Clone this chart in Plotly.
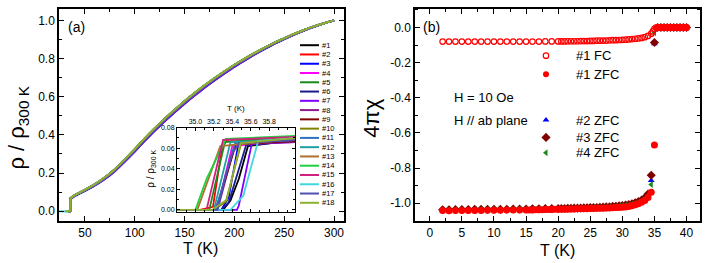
import plotly.graph_objects as go

W, H = 706, 263
FONT = "Arial, Liberation Sans, sans-serif"

# ---------------- Panel (a): normalized resistivity ----------------
base_T = [40, 50, 60, 70, 80, 90, 100, 110, 120, 130, 140, 150, 160, 170, 180,
          190, 200, 210, 220, 230, 240, 250, 260, 270, 280, 290, 300]
base_rho = [0.084, 0.111, 0.140, 0.175, 0.217, 0.268, 0.322, 0.378, 0.431, 0.481,
            0.528, 0.573, 0.616, 0.656, 0.694, 0.730, 0.764, 0.796, 0.826, 0.854,
            0.881, 0.905, 0.928, 0.949, 0.968, 0.985, 1.000]

sample_names = ["#1", "#2", "#3", "#4", "#5", "#6", "#7", "#8", "#9", "#10",
                "#11", "#12", "#13", "#14", "#15", "#16", "#17", "#18"]
sample_colors = ["#000000", "#ff0000", "#0000ff", "#ff00ff", "#1a8a1a", "#1a1a8c",
                 "#8000ff", "#8c1a8c", "#800000", "#808000", "#3070c0", "#20a0a0",
                 "#b07030", "#20d040", "#d02080", "#40d8e0", "#5050b0", "#90b030"]
# small deviation of each sample's normal-state curve (mid-range)
sample_dev = [0.000, 0.002, -0.010, 0.000, 0.004, -0.008, -0.010, -0.004, 0.000, 0.002,
              0.000, 0.002, 0.003, 0.004, 0.002, 0.000, -0.004, 0.003]
sample_Tlow = [33, 33, 33, 33, 33, 33, 33, 33, 33, 33,
               33, 33, 33, 33, 33, 24, 33, 30]

# inset: superconducting transition of each sample
inset_T = [
    [34.8, 35.30, 35.38, 35.47, 35.57, 36.1],
    [34.8, 35.05, 35.19, 35.29, 35.34, 36.1],
    [34.8, 35.28, 35.36, 35.47, 36.1],
    [34.8, 35.20, 35.26, 35.40, 36.1],
    [34.8, 35.15, 35.32, 36.1],
    [34.8, 35.28, 35.36, 35.55, 36.1],
    [34.8, 35.45, 35.47, 35.61, 36.1],
    [34.8, 35.24, 35.43, 36.1],
    [34.8, 35.22, 35.44, 36.1],
    [34.8, 35.20, 35.33, 35.50, 36.1],
    [34.8, 35.22, 35.43, 36.1],
    [34.8, 35.20, 35.38, 36.1],
    [34.8, 35.02, 35.10, 35.27, 36.1],
    [34.8, 35.00, 35.12, 35.33, 36.1],
    [34.8, 35.12, 35.30, 36.1],
    [34.8, 35.38, 35.52, 35.68, 36.1],
    [34.8, 35.24, 35.33, 35.40, 35.48, 36.1],
    [34.8, 35.18, 35.34, 35.49, 36.1],
]
inset_rho = [
    [0, 0, 0.009, 0.030, 0.062, 0.068],
    [0, 0, 0.003, 0.061, 0.068, 0.070],
    [0, 0, 0.012, 0.066, 0.069],
    [0, 0, 0.010, 0.062, 0.068],
    [0, 0, 0.066, 0.071],
    [0, 0, 0.007, 0.063, 0.067],
    [0, 0, 0.004, 0.064, 0.066],
    [0, 0, 0.064, 0.066],
    [0, 0, 0.064, 0.067],
    [0, 0, 0.008, 0.066, 0.071],
    [0, 0, 0.065, 0.068],
    [0, 0, 0.066, 0.069],
    [0, 0, 0.020, 0.062, 0.069],
    [0, 0, 0.030, 0.069, 0.072],
    [0, 0, 0.068, 0.071],
    [0, 0, 0.014, 0.067, 0.070],
    [0, 0, 0.035, 0.055, 0.065, 0.068],
    [0, 0, 0.010, 0.065, 0.070],
]

# ---------------- Panel (b): susceptibility ----------------
T_fc1 = [2, 3, 4, 5, 6, 7, 8, 9, 10, 11, 12, 13, 14, 15, 16, 17, 18, 19, 20,
         20.5, 21, 21.5, 22, 22.5, 23, 23.5, 24, 24.5, 25, 25.5, 26, 26.5, 27, 27.5,
         28, 28.5, 29, 29.5, 30, 30.5, 31, 31.5, 32, 32.5, 33, 33.5, 34, 34.5,
         34.75, 35, 35.25, 35.5, 35.75, 36, 36.25, 36.5, 36.75, 37, 37.25, 37.5,
         37.75, 38, 38.25, 38.5, 38.75, 39, 39.25, 39.5, 39.75, 40]
chi_fc1 = [-0.080, -0.080, -0.080, -0.080, -0.080, -0.080, -0.080, -0.080, -0.080, -0.080,
           -0.080, -0.080, -0.080, -0.080, -0.080, -0.080, -0.079, -0.079, -0.079,
           -0.079, -0.079, -0.078, -0.078, -0.078, -0.078, -0.077, -0.077, -0.077, -0.076,
           -0.076, -0.075, -0.075, -0.074, -0.074, -0.073, -0.072, -0.072, -0.071, -0.070,
           -0.069, -0.068, -0.066, -0.064, -0.062, -0.059, -0.055, -0.048, -0.035,
           -0.022, -0.008, 0.000, 0.000, 0.000, 0.000, 0.000, 0.000, 0.000, 0.000,
           0.000, 0.000, 0.000, 0.000, 0.000, 0.000, 0.000, 0.000, 0.000, 0.000, 0.000, 0.000]

T_zfc1 = [2, 3, 4, 5, 6, 7, 8, 9, 10, 11, 12, 13, 14, 15,
          15.5, 16, 16.5, 17, 17.5, 18, 18.5, 19, 19.5, 20,
          20.5, 21, 21.5, 22, 22.5, 23, 23.5, 24, 24.5, 25,
          25.5, 26, 26.5, 27, 27.5, 28, 28.5, 29, 29.5, 30,
          30.5, 31, 31.5, 32, 32.5, 33, 33.5, 34, 34.5, 35,
          35.5, 36, 36.5, 37, 37.5, 38, 38.5, 39, 39.5, 40]
chi_zfc1 = [-1.042, -1.043, -1.042, -1.042, -1.041, -1.041, -1.041, -1.040, -1.040, -1.040,
            -1.039, -1.039, -1.039, -1.038,
            -1.038, -1.038, -1.037, -1.037, -1.037, -1.036, -1.036, -1.036, -1.035, -1.035,
            -1.035, -1.034, -1.034, -1.033, -1.033, -1.032, -1.032, -1.031, -1.031, -1.030,
            -1.030, -1.029, -1.029, -1.028, -1.027, -1.027, -1.026, -1.025, -1.024, -1.023,
            -1.021, -1.018, -1.014, -1.009, -1.003, -0.995, -0.984, -0.967, -0.938, -0.668,
            0.000, 0.000, 0.000, 0.000, 0.000, 0.000, 0.000, 0.000, 0.000, 0.000]

T_zfc234 = [2, 3, 4, 5, 6, 7, 8, 9, 10, 11, 12, 13, 14, 15, 16, 17, 18, 19, 20,
            20.5, 21, 21.5, 22, 22.5, 23, 23.5, 24, 24.5, 25, 25.5, 26, 26.5, 27, 27.5,
            28, 28.5, 29, 29.5, 30, 30.5, 31, 31.5, 32, 32.5, 33, 33.5, 34, 34.5, 35,
            35.5, 36, 36.5, 37, 37.5, 38, 38.5, 39, 39.5, 40]
chi_zfc2 = [-1.036, -1.036, -1.035, -1.035, -1.035, -1.035, -1.034, -1.034, -1.034, -1.034,
            -1.033, -1.033, -1.033, -1.032, -1.032, -1.032, -1.031, -1.031, -1.030,
            -1.030, -1.030, -1.029, -1.029, -1.028, -1.028, -1.027, -1.027, -1.026, -1.025,
            -1.025, -1.024, -1.023, -1.022, -1.021, -1.020, -1.019, -1.017, -1.015, -1.013,
            -1.010, -1.007, -1.003, -0.998, -0.991, -0.982, -0.968, -0.945, -0.870, -0.092,
            0.000, 0.000, 0.000, 0.000, 0.000, 0.000, 0.000, 0.000, 0.000, 0.000]
chi_zfc3 = [-1.037, -1.037, -1.036, -1.036, -1.036, -1.035, -1.035, -1.035, -1.034, -1.034,
            -1.034, -1.033, -1.033, -1.033, -1.032, -1.032, -1.031, -1.031, -1.031,
            -1.030, -1.030, -1.029, -1.029, -1.028, -1.028, -1.027, -1.026, -1.026, -1.025,
            -1.024, -1.024, -1.023, -1.022, -1.021, -1.020, -1.018, -1.017, -1.015, -1.013,
            -1.010, -1.007, -1.003, -0.998, -0.991, -0.982, -0.969, -0.948, -0.841, -0.085,
            0.000, 0.000, 0.000, 0.000, 0.000, 0.000, 0.000, 0.000, 0.000, 0.000]
chi_zfc4 = [-1.038, -1.038, -1.037, -1.037, -1.037, -1.036, -1.036, -1.036, -1.035, -1.035,
            -1.035, -1.034, -1.034, -1.034, -1.033, -1.033, -1.033, -1.032, -1.032,
            -1.032, -1.031, -1.031, -1.030, -1.030, -1.029, -1.029, -1.028, -1.028, -1.027,
            -1.026, -1.026, -1.025, -1.024, -1.023, -1.022, -1.021, -1.019, -1.017, -1.015,
            -1.013, -1.010, -1.006, -1.001, -0.995, -0.986, -0.973, -0.955, -0.893, -0.030,
            0.000, 0.000, 0.000, 0.000, 0.000, 0.000, 0.000, 0.000, 0.000, 0.000]

chi_legend_labels = ["#1 FC", "#1 ZFC", "#2 ZFC", "#3 ZFC", "#4 ZFC"]

# ---------------- layout geometry (pixels) ----------------
A_X0, A_X1 = 59, 344
B_X0, B_X1 = 415, 700
P_Y0, P_Y1 = 5, 221
IN_X0, IN_X1, IN_Y0, IN_Y1 = 177, 295, 126, 212
A_XR, A_YR = [24, 310], [-0.05, 1.06]
B_XR, B_YR = [-2.3, 42.1], [-1.1, 0.106]
IN_XR, IN_YR = [34.8, 36.08], [-0.002, 0.08]


def px(x):
    return x / W


def py(y):
    return 1 - y / H


def b_data(xp, yp):
    tx = B_XR[0] + (xp - B_X0) * (B_XR[1] - B_XR[0]) / (B_X1 - B_X0)
    ty = B_YR[1] - (yp - P_Y0) * (B_YR[1] - B_YR[0]) / (P_Y1 - P_Y0)
    return tx, ty


fig = go.Figure()

# main curves (a)
for i, name in enumerate(sample_names):
    xs = [sample_Tlow[i]] + inset_T[i][1:] + base_T
    ys = [0.0] + inset_rho[i][1:] + [b + sample_dev[i] * 4 * b * (1 - b) for b in base_rho]
    fig.add_trace(go.Scatter(x=xs, y=ys, mode="lines", line=dict(color=sample_colors[i], width=2, shape="spline", smoothing=0.3),
                             xaxis="x", yaxis="y", showlegend=False, hoverinfo="skip"))

# inset curves
for i, name in enumerate(sample_names):
    fig.add_trace(go.Scatter(x=inset_T[i], y=inset_rho[i], mode="lines",
                             line=dict(color=sample_colors[i], width=1.8),
                             xaxis="x3", yaxis="y3", showlegend=False, hoverinfo="skip"))

# panel (b) data
fig.add_trace(go.Scatter(x=T_zfc234, y=chi_zfc2, mode="markers", xaxis="x2", yaxis="y2",
                         marker=dict(symbol="triangle-up", size=6, color="#0000ff"), showlegend=False))
fig.add_trace(go.Scatter(x=T_zfc234, y=chi_zfc3, mode="markers", xaxis="x2", yaxis="y2",
                         marker=dict(symbol="diamond", size=7, color="#800000"), showlegend=False))
fig.add_trace(go.Scatter(x=T_zfc234, y=chi_zfc4, mode="markers", xaxis="x2", yaxis="y2",
                         marker=dict(symbol="triangle-left", size=6, color="#1a8a1a"), showlegend=False))
fig.add_trace(go.Scatter(x=T_zfc1, y=chi_zfc1, mode="markers", xaxis="x2", yaxis="y2",
                         marker=dict(symbol="circle", size=7, color="#ff0000"), showlegend=False))
fig.add_trace(go.Scatter(x=T_fc1, y=chi_fc1, mode="markers", xaxis="x2", yaxis="y2",
                         marker=dict(symbol="circle-open", size=5.5, color="#ff0000", line=dict(width=1.2)),
                         showlegend=False))

# legend keys for (b)
leg_rows_b = [52.7, 71.7, 118.3, 136.0, 151.7]
leg_syms = [("circle-open", 5.5, "#ff0000"), ("circle", 6, "#ff0000"), ("triangle-up", 6, "#0000ff"),
            ("diamond", 7, "#800000"), ("triangle-left", 6, "#1a8a1a")]
for (sym, sz, col), yrow, lab in zip(leg_syms, leg_rows_b, chi_legend_labels):
    lx, ly = b_data(546, yrow)
    mk = dict(symbol=sym, size=sz, color=col)
    if "open" in sym:
        mk["line"] = dict(width=1.2)
    fig.add_trace(go.Scatter(x=[lx], y=[ly], mode="markers", xaxis="x2", yaxis="y2",
                             marker=mk, showlegend=False))

axis_common = dict(showline=True, linecolor="black", linewidth=1.5, mirror="allticks",
                   ticks="inside", ticklen=5, tickwidth=1.2, tickcolor="black",
                   showgrid=False, zeroline=False,
                   tickfont=dict(family=FONT, size=12, color="black"))

fig.update_layout(
    width=W, height=H, autosize=False,
    margin=dict(l=0, r=0, t=0, b=0),
    paper_bgcolor="white", plot_bgcolor="white",
    font=dict(family=FONT, color="black"),
    xaxis=dict(domain=[px(A_X0), px(A_X1)], range=A_XR, anchor="y", tick0=0, dtick=50,
               minor=dict(ticks="inside", ticklen=3, dtick=25, tickcolor="black"), **axis_common),
    yaxis=dict(domain=[py(P_Y1), py(P_Y0)], range=A_YR, anchor="x", tick0=0, dtick=0.2, tickformat=".1f",
               minor=dict(ticks="inside", ticklen=3, dtick=0.1, tickcolor="black"), **axis_common),
    xaxis2=dict(domain=[px(B_X0), px(B_X1)], range=B_XR, anchor="y2", tick0=0, dtick=5,
                minor=dict(ticks="inside", ticklen=3, dtick=2.5, tickcolor="black"), **axis_common),
    yaxis2=dict(domain=[py(P_Y1), py(P_Y0)], range=B_YR, anchor="x2",
                tickvals=[-1.0, -0.8, -0.6, -0.4, -0.2, 0.0],
                ticktext=["-1.0", "-0.8", "-0.6", "-0.4", "-0.2", "0.0"],
                minor=dict(ticks="inside", ticklen=3, tickvals=[-1.1, -0.9, -0.7, -0.5, -0.3, -0.1, 0.1],
                           tickcolor="black"), **axis_common),
    xaxis3=dict(domain=[px(IN_X0), px(IN_X1)], range=IN_XR, anchor="y3", side="top",
                tickvals=[35.0, 35.2, 35.4, 35.6, 35.8], ticktext=["35.0", "35.2", "35.4", "35.6", "35.8"],
                showline=True, linecolor="black", linewidth=1, mirror="allticks", ticks="inside",
                ticklen=3, tickwidth=1, tickcolor="black", showgrid=False, zeroline=False,
                minor=dict(ticks="inside", ticklen=2, tickvals=[34.9, 35.1, 35.3, 35.5, 35.7, 35.9, 36.0],
                           tickcolor="black"),
                tickfont=dict(family=FONT, size=7, color="black")),
    yaxis3=dict(domain=[py(IN_Y1), py(IN_Y0)], range=IN_YR, anchor="x3",
                tickvals=[0.0, 0.02, 0.04, 0.06, 0.08], ticktext=["0.00", "0.02", "0.04", "0.06", "0.08"],
                showline=True, linecolor="black", linewidth=1, mirror="allticks", ticks="inside",
                ticklen=3, tickwidth=1, tickcolor="black", showgrid=False, zeroline=False,
                minor=dict(ticks="inside", ticklen=2, tickvals=[0.01, 0.03, 0.05, 0.07], tickcolor="black"),
                tickfont=dict(family=FONT, size=7, color="black")),
)

ann = []


def add_text(text, x, y, size, xanchor="center", yanchor="middle", angle=0):
    ann.append(dict(text=text, x=px(x), y=py(y), xref="paper", yref="paper", showarrow=False,
                    xanchor=xanchor, yanchor=yanchor, textangle=angle,
                    font=dict(family=FONT, size=size, color="black")))


add_text("T (K)", 200, 249, 16)
add_text("ρ / ρ<sub>300 K</sub>", 18, 126, 22, angle=-90)
add_text("T (K)", 557, 251, 16)
add_text("4πχ", 372, 117, 22, angle=-90)
add_text("T (K)", 236, 107, 8)
add_text("ρ / ρ<sub>300 K</sub>", 151, 168, 10, angle=-90)
add_text("(a)", 66, 23, 14, xanchor="left")
add_text("(b)", 421, 23, 14, xanchor="left")
add_text("H = 10 Oe", 452, 95, 13, xanchor="left")
add_text("H // ab plane", 452, 119, 13, xanchor="left")
for lab, yrow in zip(chi_legend_labels, leg_rows_b):
    add_text(lab, 574, yrow, 13, xanchor="left")

shapes = []
for i, name in enumerate(sample_names):
    yrow = 42 + i * 9.45
    shapes.append(dict(type="line", xref="paper", yref="paper", x0=px(300), x1=px(319),
                       y0=py(yrow), y1=py(yrow), line=dict(color=sample_colors[i], width=2)))
    add_text(name, 320, yrow, 7.5, xanchor="left")

fig.update_layout(annotations=ann, shapes=shapes)
fig.write_html("out.html", config={"displayModeBar": False},
               post_script="document.body.style.margin='0px';document.body.style.padding='0px';")
